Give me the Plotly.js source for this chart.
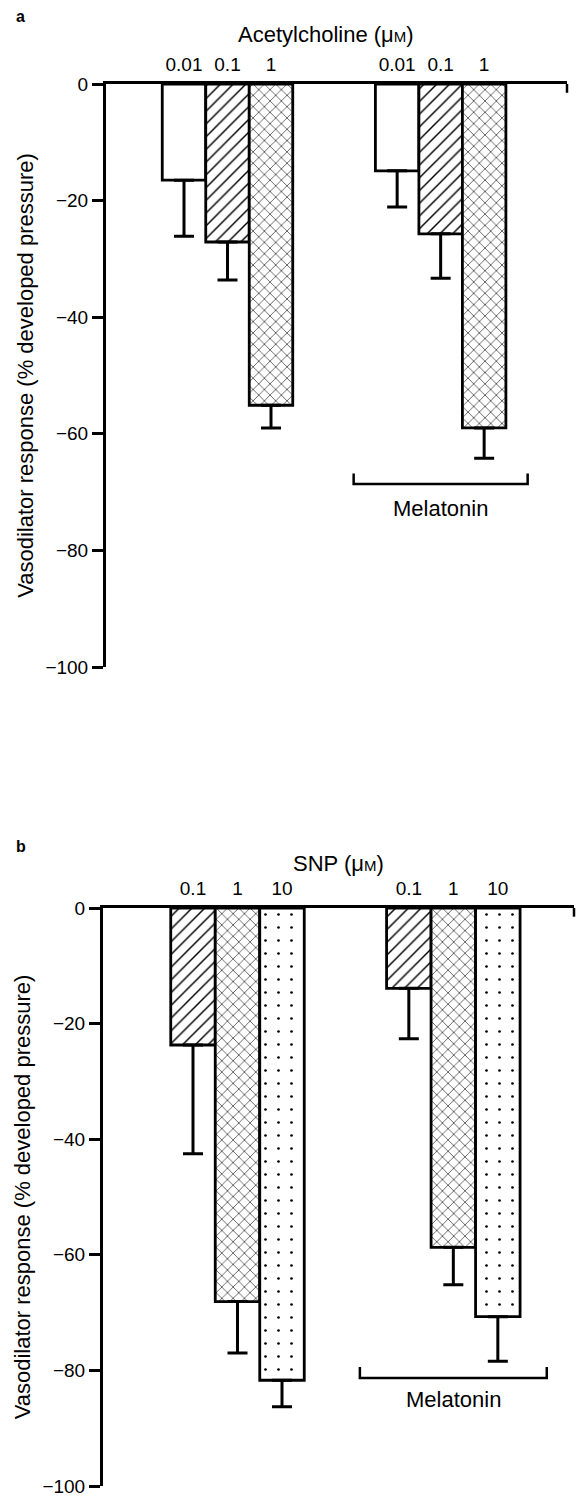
<!DOCTYPE html>
<html>
<head>
<meta charset="utf-8">
<script src="https://cdn.plot.ly/plotly-3.0.1.min.js"></script>
<style>html,body{margin:0;padding:0;background:#fff;}#chart{width:576px;height:1499px;}</style>
</head>
<body>
<div id="chart"></div>
<script>
// ---------- data ----------
const achConc = ['0.01', '0.1', '1'];
const achControl = [-16.5, -27.1, -55.1];
const achControlErr = [9.6, 6.5, 3.9];
const achMelatonin = [-14.9, -25.7, -59.0];
const achMelatoninErr = [6.2, 7.6, 5.2];

const snpConc = ['0.1', '1', '10'];
const snpControl = [-23.7, -68.1, -81.7];
const snpControlErr = [18.8, 8.9, 4.6];
const snpMelatonin = [-13.9, -58.7, -70.7];
const snpMelatoninErr = [8.7, 6.5, 7.7];

const yTicks = [0, -20, -40, -60, -80, -100];
const groupLabel = 'Melatonin';
const yTitle = 'Vasodilator response (% developed pressure)';
const achTitle = 'Acetylcholine (μ<span style="font-size:15px">M</span>)';
const snpTitle = 'SNP (μ<span style="font-size:15px">M</span>)';

// ---------- layout helpers ----------
const FONT = 'Liberation Sans, Arial, sans-serif';
const FS = 19;      // tick labels
const FT = 22;      // titles / group label
const W = 576, H = 1499;

function positions(n, offset) {
  const a = [], b = [];
  for (let i = 0; i < n; i++) { a.push(i); b.push(i + offset); }
  return [a, b];
}

function makeTraces(vals1, err1, vals2, err2, shapes, offset, xa, ya) {
  const [p1, p2] = positions(vals1.length, offset);
  const pattern = {
    shape: shapes,
    fgcolor: 'black',
    bgcolor: 'white',
    fillmode: 'replace',
    size: shapes.map(s => s === '.' ? 13 : (s === '/' ? 9 : 8)),
    solidity: shapes.map(s => s === '.' ? 0.035 : (s === '/' ? 0.16 : 0.14))
  };
  const common = (x, y, e) => ({
    type: 'bar', x: x, y: y, width: 1, xaxis: xa, yaxis: ya,
    marker: { color: 'white', line: { color: 'black', width: 2.8 }, pattern: pattern },
    error_y: { type: 'data', symmetric: false, array: y.map(() => 0), arrayminus: e,
               color: 'black', thickness: 3, width: 10 },
    showlegend: false, hoverinfo: 'skip'
  });
  return [common(p1, vals1, err1), common(p2, vals2, err2)];
}

const offTop = 4.9, offBot = 4.85;
const traces = [
  ...makeTraces(achControl, achControlErr, achMelatonin, achMelatoninErr, ['', '/', 'x'], offTop, 'x', 'y'),
  ...makeTraces(snpControl, snpControlErr, snpMelatonin, snpMelatoninErr, ['/', 'x', '.'], offBot, 'x2', 'y2')
];

const [tp1, tp2] = positions(achConc.length, offTop);
const [bp1, bp2] = positions(snpConc.length, offBot);

function xAxis(domain, range, tickvals, ticktext, anchor) {
  return {
    domain: domain, range: range, anchor: anchor, side: 'top',
    showline: true, linecolor: 'black', linewidth: 3,
    showgrid: false, zeroline: false, ticks: '',
    tickvals: tickvals, ticktext: ticktext,
    tickfont: { family: FONT, size: FS, color: 'black' },
    ticklabelstandoff: 2, ticklabeloverflow: 'allow', fixedrange: true
  };
}
function yAxis(domain, anchor) {
  return {
    domain: domain, range: [-100, 0], anchor: anchor,
    showline: true, linecolor: 'black', linewidth: 3,
    showgrid: false, zeroline: false,
    ticks: 'outside', ticklen: 11, tickwidth: 3, tickcolor: 'black',
    tickvals: yTicks, ticktext: yTicks.map(v => v === 0 ? '0' : '\u2212' + Math.abs(v)),
    tickfont: { family: FONT, size: FS, color: 'black' },
    ticklabeloverflow: 'allow',
    title: { text: yTitle, font: { family: FONT, size: FT, color: 'black' }, standoff: 6 },
    fixedrange: true
  };
}

const topX0 = 106, topX1 = 567, botX0 = 103, botX1 = 574;
const topY0 = 84, topY1 = 667, botY0 = 908, botY1 = 1486;
const topUnit = 43.5, botUnit = 44.5;
const topCenter0 = 184, botCenter0 = 193;

const layout = {
  width: W, height: H,
  margin: { l: 0, r: 0, t: 0, b: 0 },
  paper_bgcolor: 'white', plot_bgcolor: 'white',
  font: { family: FONT, size: FS, color: 'black' },
  barmode: 'overlay',
  xaxis: xAxis([topX0 / W, topX1 / W],
               [-(topCenter0 - topX0) / topUnit, (topX1 - topCenter0) / topUnit],
               tp1.concat(tp2), achConc.concat(achConc), 'y'),
  yaxis: yAxis([1 - topY1 / H, 1 - topY0 / H], 'x'),
  xaxis2: xAxis([botX0 / W, botX1 / W],
                [-(botCenter0 - botX0) / botUnit, (botX1 - botCenter0) / botUnit],
                bp1.concat(bp2), snpConc.concat(snpConc), 'y2'),
  yaxis2: yAxis([1 - botY1 / H, 1 - botY0 / H], 'x2'),
  shapes: [],
  annotations: []
};

// bracket under melatonin group
function bracket(grp, xa, ya, yLine, yTickTop, yText, half) {
  const c = grp.reduce((s, v) => s + v, 0) / grp.length;
  layout.shapes.push({
    type: 'path', xref: xa, yref: ya,
    path: `M ${c - half},${yTickTop} L ${c - half},${yLine} L ${c + half},${yLine} L ${c + half},${yTickTop}`,
    line: { color: 'black', width: 2.5 }
  });
  layout.annotations.push({
    xref: xa, yref: ya, x: c, y: yText, text: groupLabel, showarrow: false,
    font: { family: FONT, size: FT, color: 'black' }, xanchor: 'center', yanchor: 'middle'
  });
}
bracket(tp2, 'x', 'y', -68.6, -66.8, -72.8, 2.0);
bracket(bp2, 'x2', 'y2', -81.3, -79.4, -85.0, 2.1);

// small tick at right end of each zero line
[['x', 'y'], ['x2', 'y2']].forEach(([xa, ya]) => {
  layout.shapes.push({ type: 'line', xref: xa + ' domain', yref: ya, x0: 1, x1: 1, y0: 0, y1: -1.5,
                       line: { color: 'black', width: 2.5 } });
});

// panel letters and titles
function paperText(text, xpx, ypx, anchor, bold) {
  layout.annotations.push({
    xref: 'paper', yref: 'paper', x: xpx / W, y: 1 - ypx / H, text: bold ? '<b>' + text + '</b>' : text,
    showarrow: false, xanchor: anchor, yanchor: 'middle',
    font: { family: FONT, size: bold ? 16 : FT, color: 'black' }
  });
}
paperText('a', 14, 17, 'left', true);
paperText(achTitle, 326, 35, 'center', false);
paperText('b', 14, 846, 'left', true);
paperText(snpTitle, 338, 863, 'center', false);

Plotly.newPlot('chart', traces, layout, { staticPlot: true, displayModeBar: false });
</script>
</body>
</html>
